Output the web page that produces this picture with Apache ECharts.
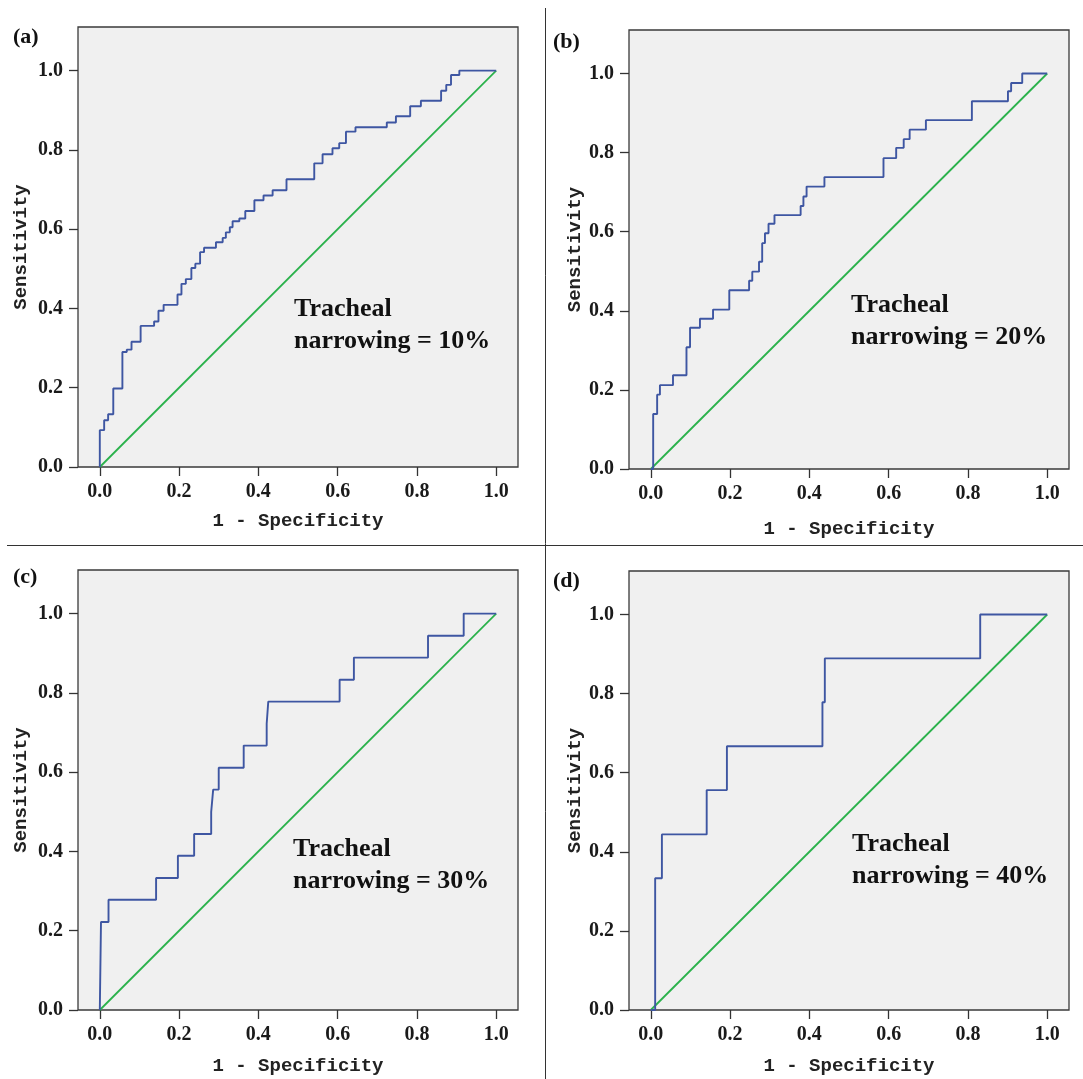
<!DOCTYPE html>
<html><head><meta charset="utf-8">
<script src="https://cdn.jsdelivr.net/npm/echarts@6/dist/echarts.min.js"></script>
<style>html,body{margin:0;padding:0;background:#fff}#c{width:1083px;height:1079px}</style>
</head><body><div id="c"></div>
<script>
// ---- data ----
const tickValues = [0, 0.2, 0.4, 0.6, 0.8, 1.0];
const tickLabels = ['0.0', '0.2', '0.4', '0.6', '0.8', '1.0'];
const panelLabels = ['(a)', '(b)', '(c)', '(d)'];
const notes = ['Tracheal\nnarrowing = 10%', 'Tracheal\nnarrowing = 20%', 'Tracheal\nnarrowing = 30%', 'Tracheal\nnarrowing = 40%'];
const xTitle = '1 - Specificity';
const yTitle = 'Sensitivity';

const fprA = [0, 0, 0.011, 0.021, 0.034, 0.057, 0.068, 0.080, 0.103, 0.137, 0.148, 0.161, 0.196, 0.206, 0.217, 0.231, 0.241, 0.253, 0.263, 0.293, 0.310, 0.318, 0.328, 0.335, 0.352, 0.367, 0.390, 0.413, 0.436, 0.471, 0.541, 0.562, 0.587, 0.604, 0.621, 0.645, 0.724, 0.747, 0.783, 0.810, 0.861, 0.874, 0.886, 0.907, 1.0];
const tprA = [0, 0.093, 0.118, 0.133, 0.198, 0.290, 0.296, 0.316, 0.356, 0.367, 0.394, 0.409, 0.435, 0.462, 0.474, 0.502, 0.513, 0.542, 0.553, 0.567, 0.578, 0.592, 0.605, 0.620, 0.627, 0.646, 0.673, 0.685, 0.698, 0.726, 0.766, 0.789, 0.804, 0.817, 0.846, 0.857, 0.869, 0.885, 0.910, 0.924, 0.949, 0.964, 0.989, 1.0, 1.0];

const fprB = [0, 0.006, 0.016, 0.023, 0.056, 0.090, 0.099, 0.124, 0.157, 0.198, 0.248, 0.256, 0.273, 0.281, 0.288, 0.297, 0.312, 0.378, 0.385, 0.393, 0.438, 0.587, 0.619, 0.638, 0.653, 0.694, 0.810, 0.901, 0.909, 0.937, 1.0];
const tprB = [0, 0.139, 0.188, 0.212, 0.237, 0.308, 0.357, 0.380, 0.403, 0.452, 0.476, 0.499, 0.524, 0.571, 0.596, 0.620, 0.642, 0.665, 0.689, 0.714, 0.738, 0.786, 0.812, 0.834, 0.858, 0.882, 0.930, 0.955, 0.976, 1.0, 1.0];

const fprC = [0, 0.003, 0.022, 0.142, 0.197, 0.238, 0.281, 0.286, 0.300, 0.363, 0.421, 0.425, 0.605, 0.641, 0.828, 0.918, 1.0];
const tprC = [0, 0.222, 0.278, 0.333, 0.389, 0.444, 0.500, 0.556, 0.611, 0.667, 0.722, 0.778, 0.833, 0.889, 0.944, 1.0, 1.0];

const fprD = [0, 0.011, 0.028, 0.141, 0.192, 0.433, 0.439, 0.831, 1.0];
const tprD = [0, 0.333, 0.444, 0.556, 0.667, 0.778, 0.889, 1.0, 1.0];

const refX = [0, 1];
const refY = [0, 1];

// ---- layout / style ----
const layouts = [
  {left: 78, top: 27, width: 440, height: 440, xGap: 45, yGap: 47, lab: [13, 37], note: [294, 293]},
  {left: 629, top: 30, width: 440, height: 439, xGap: 51, yGap: 42, lab: [553, 42], note: [851, 289]},
  {left: 78, top: 570, width: 440, height: 440, xGap: 47, yGap: 47, lab: [13, 577], note: [293, 833]},
  {left: 629, top: 571, width: 440, height: 439, xGap: 47, yGap: 42, lab: [553, 581], note: [852, 828]}
];
const rocs = [[fprA, tprA], [fprB, tprB], [fprC, tprC], [fprD, tprD]];
const zip = (a, b) => a.map((v, i) => [v, b[i]]);
const fmt = v => { const i = tickValues.findIndex(t => Math.abs(t - v) < 1e-6); return i >= 0 ? tickLabels[i] : ''; };

const grid = [], xAxis = [], yAxis = [], series = [], graphic = [];
layouts.forEach((L, k) => {
  grid.push({left: L.left, top: L.top, width: L.width, height: L.height, show: true,
    backgroundColor: '#f0f0f0', borderColor: '#3a3a3a', borderWidth: 1.3, containLabel: false});
  xAxis.push({type: 'value', gridIndex: k, min: -0.055, max: 1.055, position: 'bottom',
    name: xTitle, nameLocation: 'middle', nameGap: L.xGap,
    nameTextStyle: {fontFamily: 'Liberation Mono', fontWeight: 'bold', fontSize: 19, color: '#222'},
    axisLine: {show: false, onZero: false}, splitLine: {show: false},
    axisTick: {show: true, length: 9, customValues: tickValues, lineStyle: {color: '#333', width: 1.3}},
    axisLabel: {customValues: tickValues, formatter: fmt, margin: 15, fontFamily: 'Liberation Serif', fontWeight: 'bold', fontSize: 20, color: '#1a1a1a'}});
  yAxis.push({type: 'value', gridIndex: k, min: 0, max: 1.11, position: 'left',
    name: yTitle, nameLocation: 'middle', nameGap: L.yGap, nameRotate: 90,
    nameTextStyle: {fontFamily: 'Liberation Mono', fontWeight: 'bold', fontSize: 19, color: '#222'},
    axisLine: {show: false, onZero: false}, splitLine: {show: false},
    axisTick: {show: true, length: 9, customValues: tickValues, lineStyle: {color: '#333', width: 1.3}},
    axisLabel: {customValues: tickValues, formatter: fmt, margin: 15, fontFamily: 'Liberation Serif', fontWeight: 'bold', fontSize: 20, color: '#1a1a1a'}});
  series.push({type: 'line', xAxisIndex: k, yAxisIndex: k, data: zip(refX, refY), showSymbol: false,
    lineStyle: {color: '#2bb24c', width: 1.8}, silent: true, z: 2});
  series.push({type: 'line', xAxisIndex: k, yAxisIndex: k, step: 'end', data: zip(rocs[k][0], rocs[k][1]), showSymbol: false,
    lineStyle: {color: '#3e56a2', width: 1.9}, silent: true, z: 3});
  graphic.push({type: 'text', x: L.lab[0], y: L.lab[1], style: {text: panelLabels[k], font: 'bold 22px "Liberation Serif"', fill: '#111', verticalAlign: 'middle'}});
  graphic.push({type: 'text', x: L.note[0], y: L.note[1], z: 10, style: {text: notes[k], font: 'bold 26px "Liberation Serif"', lineHeight: 32, fill: '#111'}});
});
graphic.push({type: 'line', shape: {x1: 545.5, y1: 8, x2: 545.5, y2: 1079}, style: {stroke: '#333', lineWidth: 1}});
graphic.push({type: 'line', shape: {x1: 7, y1: 545.5, x2: 1083, y2: 545.5}, style: {stroke: '#333', lineWidth: 1}});

const chart = echarts.init(document.getElementById('c'));
chart.setOption({animation: false, backgroundColor: '#fff', grid, xAxis, yAxis, series, graphic});
</script>
</body></html>
